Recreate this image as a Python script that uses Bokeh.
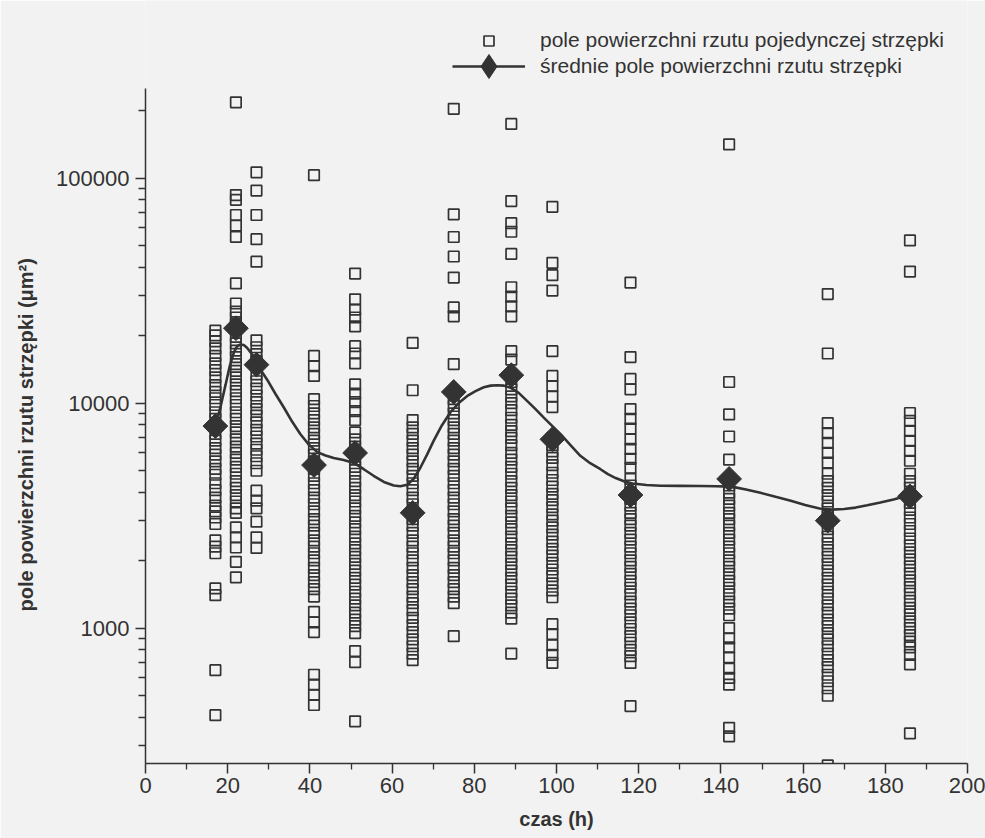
from bokeh.plotting import figure
from bokeh.models import (FixedTicker, NumeralTickFormatter, Legend, LegendItem)
from bokeh.embed import file_html
from bokeh.resources import INLINE
import math

# ---------------- data ----------------
times = [17, 22, 27, 41, 51, 65, 75, 89, 99, 118, 142, 166, 186]
mean_area = [7900, 21500, 14800, 5300, 6000, 3250, 11200, 13300, 6900, 3900, 4600, 3000, 3850]

area_17h = [21000, 20000, 18800, 17500, 16200, 15000, 14000, 13000, 12000, 11200, 10500,
            9800, 9100, 8500, 7300, 6800, 6300, 5900, 5500, 5100, 4800, 4400, 4100, 3800,
            3500, 3300, 3100, 2900, 2450, 2300, 2150, 1500, 1400, 650, 410]
area_22h = [217000, 84000, 80000, 68500, 61500, 54800, 34000, 27700, 25500, 24000, 22500,
            19700, 18400, 17100, 16000, 14900, 13900, 13000, 12100, 11300, 10500, 9800,
            9100, 8500, 7900, 7400, 6900, 6400, 6000, 5600, 5200, 4850, 4500, 4200, 3900,
            3650, 3400, 3250, 2800, 2530, 2280, 1970, 1680]
area_27h = [106000, 88000, 68500, 53500, 42500, 19000, 17700, 16500, 15400, 13400, 12500,
            11600, 10800, 10100, 9400, 8800, 8200, 7600, 7100, 6600, 6200, 5800, 5400, 5000,
            4080, 3680, 3400, 2970, 2530, 2270]
area_41h = [103000, 16200, 14600, 13200, 10400, 9700, 9000, 8400, 7800, 7300, 6800, 6300,
            5900, 5500, 5100, 4750, 4400, 4100, 3800, 3550, 3300, 3050, 2850, 2650, 2450,
            2300, 2150, 2000, 1850, 1720, 1600, 1490, 1380, 1180, 1060, 960, 620, 560, 505, 455]
area_51h = [37600, 28900, 26000, 24000, 21900, 17900, 16600, 15000, 12100, 11000, 10100,
            9200, 8400, 7400, 6900, 6400, 5600, 5200, 4850, 4500, 4200, 3900, 3650, 3400,
            3150, 2950, 2750, 2550, 2380, 2220, 2070, 1930, 1800, 1670, 1560, 1450, 1350,
            1260, 1170, 1090, 1020, 950, 790, 705, 385]
area_65h = [18500, 11400, 8400, 7800, 7300, 6800, 6300, 5900, 5500, 5100, 4750, 4400, 4100,
            3800, 3550, 3050, 2850, 2650, 2450, 2300, 2150, 2000, 1850, 1720, 1600, 1490,
            1380, 1290, 1200, 1110, 1030, 960, 890, 830, 770, 720]
area_75h = [203000, 69000, 54700, 44800, 36100, 26600, 24300, 14900, 10400, 9700, 9000,
            8400, 7800, 7300, 6800, 6300, 5900, 5500, 5100, 4750, 4400, 4100, 3800, 3550,
            3300, 3050, 2850, 2650, 2450, 2300, 2150, 2000, 1850, 1720, 1600, 1490, 1380,
            1290, 920]
area_89h = [174000, 79000, 63000, 57700, 46000, 32700, 29700, 26900, 24300, 17000, 15600,
            12400, 11500, 10700, 10000, 9300, 8600, 8000, 7500, 7000, 6500, 6000, 5600, 5200,
            4850, 4500, 4200, 3900, 3650, 3400, 3150, 2950, 2750, 2550, 2380, 2220, 2070,
            1930, 1800, 1670, 1560, 1450, 1350, 1260, 1170, 1100, 770]
area_99h = [74500, 42000, 37000, 31600, 17000, 13200, 11900, 10700, 9600, 7000, 6500, 6100,
            5700, 5300, 4900, 4550, 4250, 3950, 3700, 3450, 3200, 3000, 2800, 2600, 2420,
            2250, 2100, 1950, 1820, 1700, 1580, 1470, 1370, 1040, 940, 840, 760, 700]
area_118h = [34300, 16000, 12800, 11500, 9400, 8500, 7700, 6900, 6250, 5650, 5150, 4600,
             4300, 4000, 3750, 3500, 3250, 3050, 2850, 2650, 2470, 2300, 2150, 2000, 1870,
             1740, 1620, 1510, 1410, 1310, 1220, 1140, 1060, 990, 920, 860, 800, 750, 700, 450]
area_142h = [141000, 12400, 8900, 7100, 5600, 4300, 4000, 3750, 3500, 3250, 3050, 2850,
             2650, 2470, 2300, 2150, 2000, 1870, 1740, 1620, 1510, 1410, 1310, 1220, 1140,
             1000, 900, 820, 740, 660, 600, 560, 360, 330]
area_166h = [30500, 16600, 8150, 7350, 6650, 6000, 5430, 4850, 4500, 4200, 3900, 3650, 3400,
             3150, 2750, 2550, 2380, 2220, 2070, 1930, 1800, 1670, 1560, 1450, 1350, 1260,
             1170, 1090, 1020, 950, 890, 830, 770, 720, 670, 620, 580, 540, 500, 245]
area_186h = [52800, 38400, 9030, 8330, 7520, 6790, 6130, 5540, 4850, 4500, 4200, 3600, 3350,
             3100, 2900, 2700, 2500, 2330, 2170, 2020, 1880, 1750, 1630, 1520, 1420, 1320,
             1230, 1150, 1070, 1000, 930, 870, 820, 760, 690, 340]

single_areas = [area_17h, area_22h, area_27h, area_41h, area_51h, area_65h, area_75h,
                area_89h, area_99h, area_118h, area_142h, area_166h, area_186h]

curve_x = [17, 18.3, 19.5, 20.5, 21.5, 22.3, 23.1, 23.9, 24.7, 26.0, 27.2, 28.4, 29.6, 31.6,
           33.7, 35.7, 37.7, 39.7, 41.8, 43.8, 45.8, 48.2, 50.7, 53.1, 55.5, 58.0, 60.4,
           62.0, 63.7, 65.3, 66.9, 68.5, 70.1, 72.1, 74.2, 76.2, 78.3, 80.3, 82.3, 84.0,
           85.6, 87.2, 88.8, 90.8, 92.9, 94.9, 96.9, 99.0, 101, 103.4, 105.8, 108.2, 110.7,
           112.5, 114.4, 116.4, 118.5, 121.9, 125.3, 130, 135, 138.8, 142.6, 146.1, 149.6,
           153.3, 157, 160.5, 164, 167, 170, 172.8, 175.6, 178.8, 182, 184.2, 186.5]
curve_y = [7900, 9700, 12100, 14600, 16800, 17900, 18200, 18100, 17600, 16400, 14800, 13700,
           12700, 11000, 9530, 8250, 7270, 6550, 6050, 5850, 5700, 5580, 5420, 5080, 4750,
           4460, 4300, 4270, 4330, 4620, 5170, 5900, 6790, 7950, 9100, 10000, 10750, 11300,
           11750, 11950, 12000, 11950, 11700, 11100, 10200, 9400, 8610, 7900, 7270, 6500,
           5830, 5400, 5080, 4830, 4640, 4490, 4390, 4320, 4290, 4285, 4280, 4265, 4250,
           4130, 3990, 3830, 3680, 3520, 3400, 3360, 3380, 3430, 3510, 3610, 3730, 3820, 3920]

x_ticks = list(range(0, 201, 20))
x_minor = list(range(10, 200, 20))
y_ticks = [1000, 10000, 100000]
y_axis_min, y_axis_max = 250, 250000

label_single = "pole powierzchni rzutu pojedynczej strzępki"
label_mean = "średnie pole powierzchni rzutu strzępki"
x_title = "czas (h)"
y_title = "pole powierzchni rzutu strzępki (μm²)"

# ---------------- layout constants (pixels) ----------------
W, H = 985, 838
LEFT, RIGHT, BOTTOM = 145, 18, 75
AXIS_TOP = 88                      # where the drawn y axis ends (page px)
frame_h = H - BOTTOM               # frame spans from page top to the x axis
axis_h = frame_h - AXIS_TOP
y_range_end = y_axis_min * 10 ** (math.log10(y_axis_max / y_axis_min) * frame_h / axis_h)

BG = "#f2f2f2"
INK = "#333333"
FONT = "Liberation Sans"

pts_x, pts_y = [], []
for t, vals in zip(times, single_areas):
    pts_x += [t] * len(vals)
    pts_y += vals

p = figure(width=W, height=H, x_range=(0, 200), y_range=(y_axis_min, y_range_end),
           y_axis_type="log", output_backend="svg", toolbar_location=None,
           min_border_left=LEFT, min_border_right=RIGHT, min_border_top=0,
           min_border_bottom=BOTTOM, background_fill_color=BG, border_fill_color=BG,
           outline_line_color=None)
p.grid.visible = False

sc = p.scatter(pts_x, pts_y, marker="square", size=10.5, fill_color=None,
               line_color=INK, line_width=1.7)
ln = p.line(curve_x, curve_y, line_color=INK, line_width=2.6)
# plain diamond marker (used for the legend key), covered by the rotated squares
dm_key = p.scatter(times, mean_area, marker="diamond", size=22, fill_color=INK,
                   line_color=INK, line_width=1)
dm = p.scatter(times, mean_area, marker="square", angle=math.pi / 4, size=17.5,
               fill_color=INK, line_color=INK, line_width=1)

y_minor = [m * 10 ** e for e in (2, 3, 4, 5) for m in range(2, 10)
           if y_axis_min <= m * 10 ** e <= y_axis_max]
p.xaxis.ticker = FixedTicker(ticks=x_ticks, minor_ticks=x_minor)
p.yaxis.ticker = FixedTicker(ticks=y_ticks, minor_ticks=y_minor)
p.yaxis.formatter = NumeralTickFormatter(format="0")
p.yaxis.bounds = (y_axis_min, y_axis_max)

for ax in (p.xaxis[0], p.yaxis[0]):
    ax.axis_line_color = INK
    ax.axis_line_width = 1.5
    ax.major_tick_line_color = INK
    ax.major_tick_line_width = 1.5
    ax.minor_tick_line_color = INK
    ax.minor_tick_line_width = 1.3
    ax.major_tick_in = 0
    ax.minor_tick_in = 0
    ax.major_tick_out = 10
    ax.major_label_text_font = FONT
    ax.major_label_text_font_size = "22px"
    ax.major_label_text_color = INK
    ax.axis_label_text_font = FONT
    ax.axis_label_text_font_size = "20px"
    ax.axis_label_text_font_style = "bold"
    ax.axis_label_text_color = INK

p.xaxis.minor_tick_out = 6
p.yaxis.minor_tick_out = 7
p.xaxis.major_label_standoff = 4
p.yaxis.major_label_standoff = 6
p.xaxis.axis_label = x_title
# the frame reaches the page top (room for the key); trailing no-break spaces
# re-centre the rotated title on the drawn part of the axis
p.yaxis.axis_label = y_title + "\u00a0" * 19
p.xaxis.axis_label_standoff = 12
p.yaxis.axis_label_standoff = 16

common = dict(orientation="vertical", glyph_width=73, padding=0, margin=0,
              label_standoff=15, border_line_color=None, background_fill_alpha=0,
              label_text_font=FONT, label_text_font_size="21px", label_text_color=INK)
# key rows centred 40 px and 66 px below the page top; glyph boxes start at x = 452
leg1 = Legend(items=[LegendItem(label=label_single, renderers=[sc])],
              location=(452 - LEFT, frame_h - 52.5), glyph_height=25, label_height=25,
              **common)
leg2 = Legend(items=[LegendItem(label=label_mean, renderers=[ln, dm_key])],
              location=(452 - LEFT, frame_h - 96), glyph_height=60, label_height=60,
              **common)
p.add_layout(leg1, "center")
p.add_layout(leg2, "center")

open("out.html", "w").write(file_html(p, INLINE))
